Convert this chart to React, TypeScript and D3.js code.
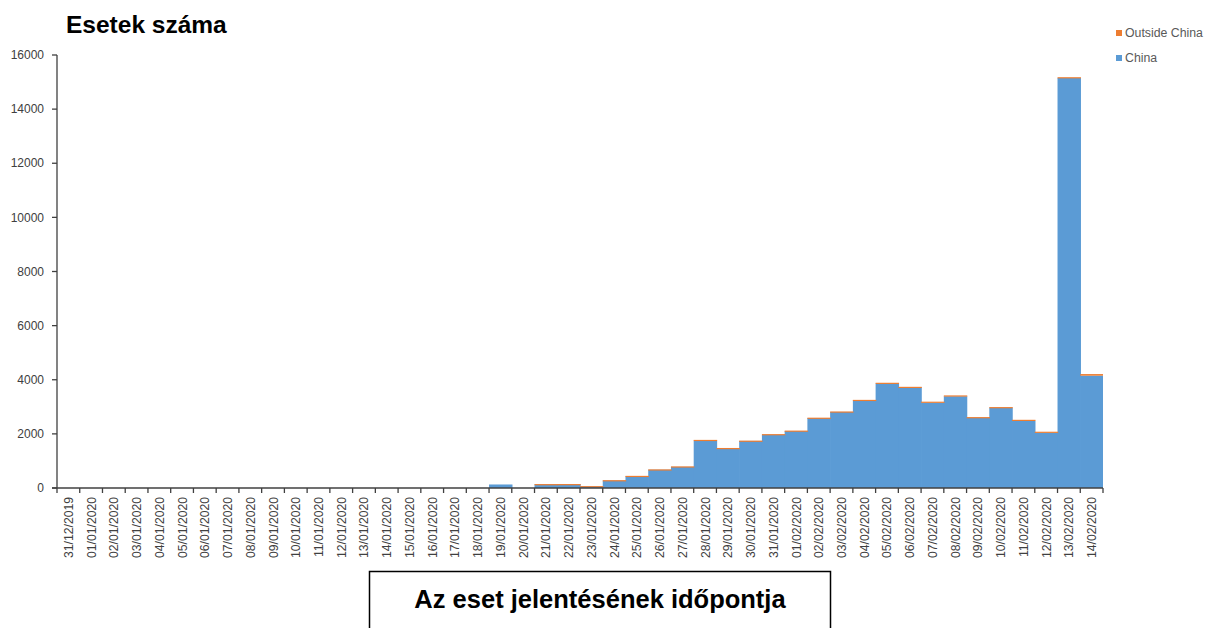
import React from "react";
import * as d3 from "d3";

// report dates, 31/12/2019 .. 14/02/2020
const dates = [
  "31/12/2019",
  "01/01/2020", "02/01/2020", "03/01/2020", "04/01/2020", "05/01/2020", "06/01/2020", "07/01/2020",
  "08/01/2020", "09/01/2020", "10/01/2020", "11/01/2020", "12/01/2020", "13/01/2020", "14/01/2020",
  "15/01/2020", "16/01/2020", "17/01/2020", "18/01/2020", "19/01/2020", "20/01/2020", "21/01/2020",
  "22/01/2020", "23/01/2020", "24/01/2020", "25/01/2020", "26/01/2020", "27/01/2020", "28/01/2020",
  "29/01/2020", "30/01/2020", "31/01/2020",
  "01/02/2020", "02/02/2020", "03/02/2020", "04/02/2020", "05/02/2020", "06/02/2020", "07/02/2020",
  "08/02/2020", "09/02/2020", "10/02/2020", "11/02/2020", "12/02/2020", "13/02/2020", "14/02/2020",
];

const china = [
  0,
  0, 0, 0, 0, 0, 0, 0,
  0, 0, 0, 0, 0, 0, 0,
  0, 0, 0, 0, 130, 0, 140,
  140, 60, 275, 435, 675, 780, 1755,
  1465, 1740, 1970,
  2105, 2585, 2810, 3240, 3865, 3725, 3150,
  3390, 2600, 2970, 2480, 2040, 15150, 4150,
];

const outside = [
  0,
  0, 0, 0, 0, 0, 0, 0,
  0, 0, 0, 0, 0, 0, 0,
  0, 0, 0, 0, 0, 0, 5,
  7, 9, 14, 14, 13, 19, 23,
  14, 10, 21,
  17, 14, 18, 17, 24, 14, 40,
  32, 20, 20, 40, 40, 30, 60,
];

const yTicks = [0, 2000, 4000, 6000, 8000, 10000, 12000, 14000, 16000];

const BLUE = "#5b9bd5";
const ORANGE = "#ed7d31";
const AXIS = "#404040";
const FONT = "'Liberation Sans', Arial, sans-serif";

export default function App() {
  const left = 57, right = 1103, top = 55, bottom = 488;

  const x = d3.scaleBand<string>().domain(dates).range([left, right]).padding(0);
  const y = d3.scaleLinear().domain([0, 16000]).range([bottom, top]);

  const rows = dates.map((d, i) => ({ date: d, china: china[i], outside: outside[i] }));
  const stacked = d3.stack<any>().keys(["china", "outside"])(rows);
  const colors = [BLUE, ORANGE];

  const bw = x.bandwidth();

  return (
    <svg width={1209} height={628} style={{ position: "absolute", left: 0, top: 0, background: "#fff" }}>
      {/* title */}
      <text x={66} y={33} fontFamily={FONT} fontWeight="bold" fontSize={24.5} fill="#000">
        Esetek száma
      </text>

      {/* bars */}
      {stacked.map((s, si) => (
        <g key={si} fill={colors[si]}>
          {s.map((d, i) => {
            const h = y(d[0]) - y(d[1]);
            if (h <= 0) return null;
            return (
              <rect
                key={i}
                x={x(dates[i])}
                y={y(d[1])}
                width={i === dates.length - 1 ? bw : bw + 0.7}
                height={Math.max(h, si === 1 ? 1.2 : h)}
              />
            );
          })}
        </g>
      ))}

      {/* y axis */}
      <line x1={left} x2={left} y1={top} y2={bottom} stroke={AXIS} strokeWidth={1.3} />
      {yTicks.map((t) => (
        <g key={t}>
          <line x1={left - 5} x2={left} y1={y(t)} y2={y(t)} stroke={AXIS} strokeWidth={1.3} />
          <text x={44} y={y(t)} dy="0.35em" textAnchor="end" fontFamily={FONT} fontSize={12} fill={AXIS}>
            {t}
          </text>
        </g>
      ))}

      {/* x axis */}
      <line x1={left - 5} x2={right} y1={bottom} y2={bottom} stroke={AXIS} strokeWidth={1.3} />
      {dates.map((d, i) => (
        <line key={"t" + i} x1={x(d)! + bw} x2={x(d)! + bw} y1={bottom} y2={bottom + 5} stroke={AXIS} strokeWidth={1.3} />
      ))}
      <line x1={left} x2={left} y1={bottom} y2={bottom + 5} stroke={AXIS} strokeWidth={1.3} />
      {dates.map((d) => {
        const cx = x(d)! + bw / 2 + 4.5;
        return (
          <text
            key={d}
            transform={`translate(${cx},${bottom + 9}) rotate(-90)`}
            textAnchor="end"
            fontFamily={FONT}
            fontSize={12.2}
            fill={AXIS}
          >
            {d}
          </text>
        );
      })}

      {/* legend */}
      <rect x={1116} y={30} width={6} height={6} fill={ORANGE} />
      <text x={1125} y={33} dy="0.35em" fontFamily={FONT} fontSize={12.3} fill="#595959">
        Outside China
      </text>
      <rect x={1116} y={55} width={6} height={6} fill={BLUE} />
      <text x={1125} y={58} dy="0.35em" fontFamily={FONT} fontSize={12.3} fill="#595959">
        China
      </text>

      {/* x axis title box */}
      <rect x={369.5} y={571.5} width={461} height={70} fill="#fff" stroke="#000" strokeWidth={1.5} />
      <text x={600} y={608} textAnchor="middle" fontFamily={FONT} fontWeight="bold" fontSize={25.5} fill="#000">
        Az eset jelentésének időpontja
      </text>
    </svg>
  );
}
